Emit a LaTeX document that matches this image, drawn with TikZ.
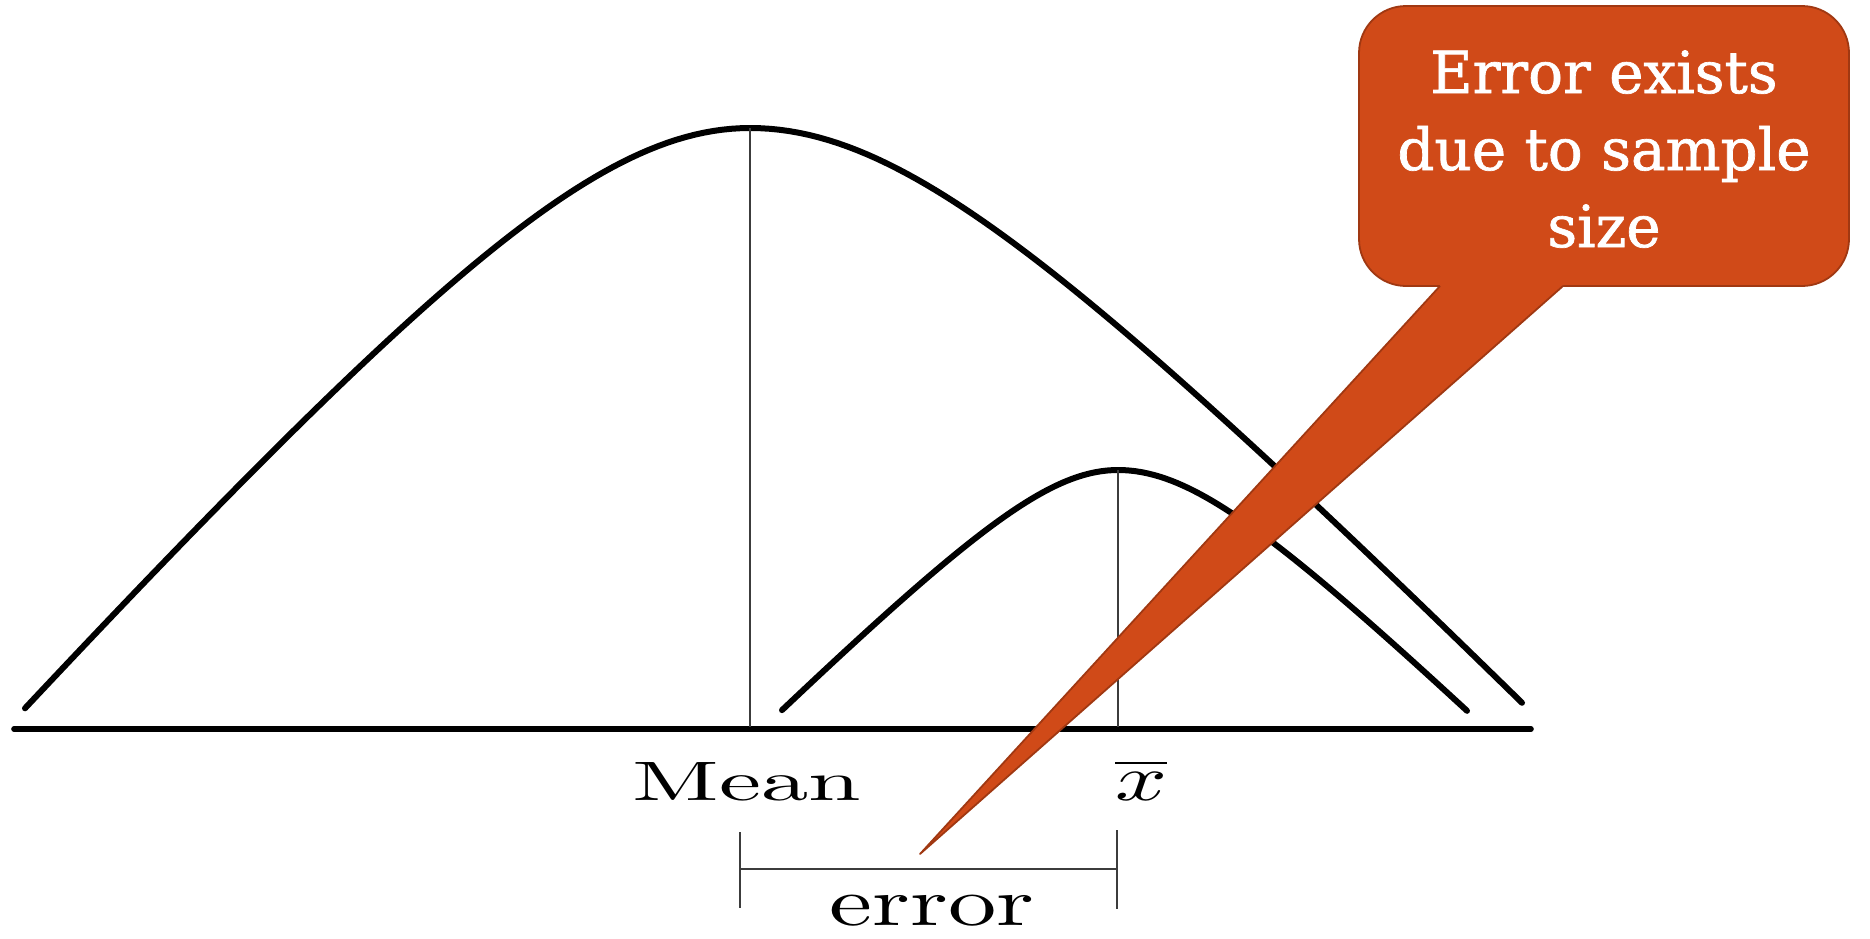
\documentclass[tikz,border=0pt]{standalone}
\usepackage{fontspec}
\usepackage{graphicx}
\newfontfamily\calloutfont[FakeBold=1.2]{DejaVu Serif}
\definecolor{calloutfill}{RGB}{208,74,24}
\definecolor{calloutedge}{RGB}{160,56,18}
\definecolor{thinline}{RGB}{60,60,60}
\tikzset{
  curve/.style={line width=3pt, line cap=round, line join=round, black},
  axisline/.style={line width=2.8pt, line cap=round, black},
  meanline/.style={line width=1pt, thinline},
  bracket/.style={line width=0.9pt, thinline},
  calloutbox/.style={draw=calloutedge, fill=calloutfill, line width=0.9pt, rounded corners=23.5pt, minimum width=245pt, minimum height=140pt, inner sep=0pt},
  callouttext/.style={text=white, anchor=base, inner sep=0pt, font=\calloutfont\fontsize{29}{38.5}\selectfont},
  label/.style={anchor=base, inner sep=0pt}
}
\begin{document}
\begin{tikzpicture}[x=0.5pt,y=-0.5pt]
\useasboundingbox (0,0) rectangle (1870,938);
% axis
\coordinate (axL) at (14,729);
\coordinate (axR) at (1531,729);
\draw[axisline] (axL) -- (axR);
% population curve
\draw[curve] plot[domain=25:750, samples=80] (\x, {128+113*(sqrt(((\x-750)/100)^2+6.5025)-2.55)})
  -- plot[domain=750:1522, samples=80] (\x, {128+103*(sqrt(((\x-750)/100)^2+6.5025)-2.55)});
% sample curve
\draw[curve] plot[domain=782:1118, samples=60] (\x, {470+100*(sqrt(((\x-1118)/100)^2+1.3225)-1.15)})
  -- plot[domain=1118:1467, samples=60] (\x, {470+98*(sqrt(((\x-1118)/100)^2+1.5625)-1.25)});
% vertical lines
\coordinate (mtop) at (750,128);
\coordinate (mbot) at (750,727);
\coordinate (xtop) at (1118,470);
\coordinate (xbot) at (1118,727);
\draw[meanline] (mtop) -- (mbot);
\draw[meanline] (xtop) -- (xbot);
% labels
\node[label] (mean) at (747,800) {\scalebox{4.73}[2.78]{Mean}};
\node[label] (xbar) at (1141,800) {\scalebox{4.55}[3.25]{$\overline{x}$}};
% error bracket
\coordinate (b1t) at (740,832);
\coordinate (b1b) at (740,908);
\coordinate (b2t) at (1117,830);
\coordinate (b2b) at (1117,909);
\coordinate (b1m) at (740,869);
\coordinate (b2m) at (1117,869);
\draw[bracket] (b1t) -- (b1b);
\draw[bracket] (b2t) -- (b2b);
\draw[bracket, line width=0.75pt] (b1m) -- (b2m);
\node[label] (err) at (932,925) {\scalebox{4.83}[3.4]{error}};
% callout
\node[calloutbox] (note) at (1604,146) {};
\coordinate (tl) at (1440,286);
\coordinate (tr) at (1563,286);
\coordinate (tip) at (920,854);
\fill[calloutfill] (1440,281) -- (tl) -- (tip) -- (tr) -- (1563,281) -- cycle;
\draw[calloutedge, line width=0.9pt, line join=round] (tl) -- (tip) -- (tr);
\node[callouttext] (t1) at (1604,93) {Error exists};
\node[callouttext] (t2) at (1604,170) {due to sample};
\node[callouttext] (t3) at (1604,247) {size};
\end{tikzpicture}
\end{document}
